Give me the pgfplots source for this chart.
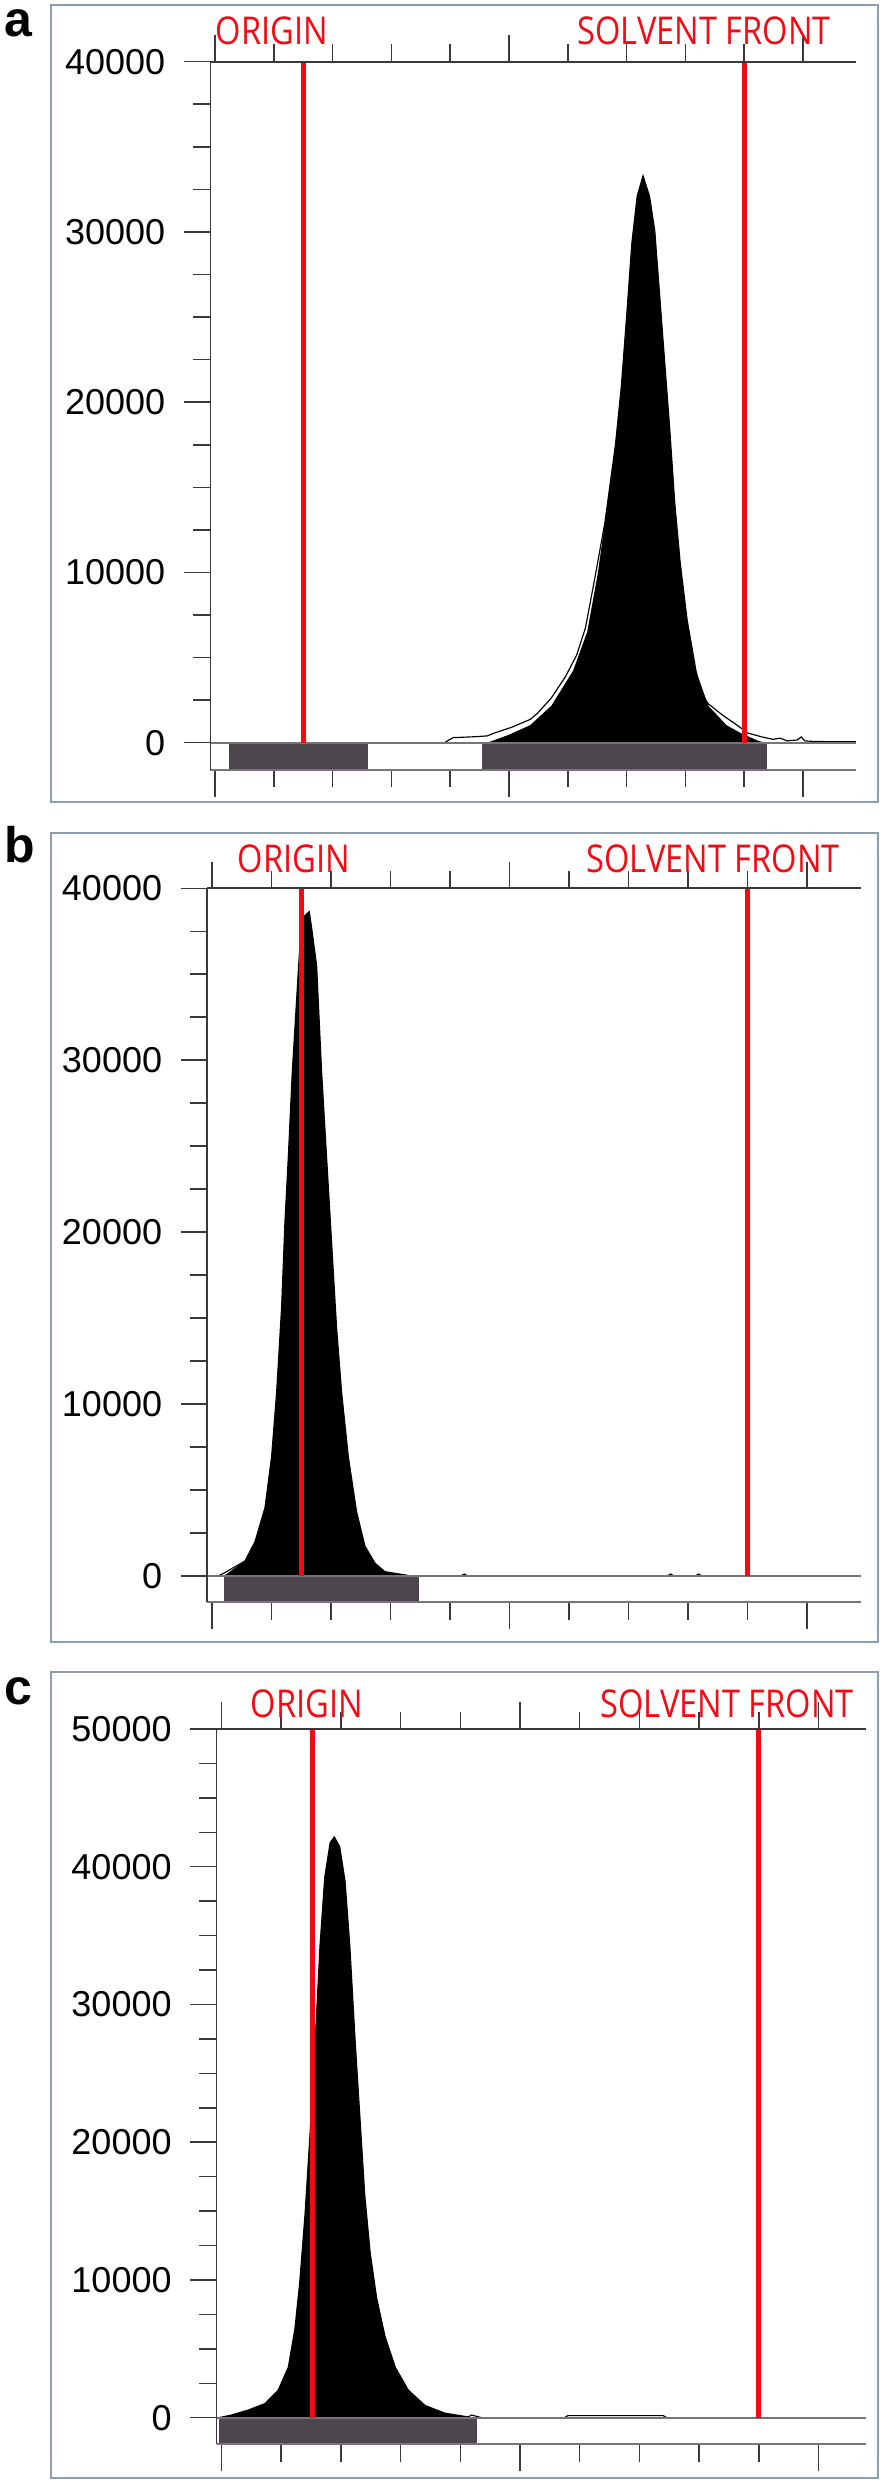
\documentclass[border=0pt]{standalone}
\usepackage{fontspec}
\setmainfont{Liberation Sans}
\newfontfamily\labfont[FakeStretch=0.85]{Open Sans}
\usepackage{pgfplots}
\pgfplotsset{compat=1.18}

\definecolor{bandgray}{RGB}{75,71,76}
\definecolor{frameblue}{RGB}{140,156,178}
\definecolor{tickgray}{RGB}{60,55,60}
\definecolor{zerogray}{RGB}{120,115,122}
\definecolor{tlcred}{RGB}{245,10,20}

\pgfplotsset{
  tlc/.style={
    scale only axis, clip=false,
    axis line style={draw=none},
    tick align=outside,
    xtick pos=both, ytick pos=left,
    xtick={0,5,10}, minor xtick={1,2,3,4,6,7,8,9},
    xticklabels={,,},
    major tick length=8pt, minor tick length=5.2pt,
    tick style={tickgray, line width=0.45pt},
    scaled y ticks=false,
    /pgf/number format/assume math mode=true,
    /pgf/number format/1000 sep={},
    yticklabel style={font=\fontsize{10.8}{12}\selectfont, xshift=-2pt},
  },
  band/.style={fill=bandgray, draw=none},
  peak/.style={fill=black, draw=none},
  trace/.style={black, line width=0.35pt},
  zeroline/.style={zerogray, line width=0.6pt},
  redline/.style={tlcred, line width=1.5pt},
}
\newcommand\axframe{%
  \draw[tickgray, line width=0.7pt] (rel axis cs:0,1) -- (rel axis cs:1,1);
  \draw[zerogray, line width=0.6pt] (rel axis cs:0,0) -- (rel axis cs:1,0);
  \draw[tickgray, line width=0.45pt] (rel axis cs:0,0) -- (rel axis cs:0,1);
}

\begin{document}
\begin{tikzpicture}
\useasboundingbox (0,0) rectangle (264.9pt,744.3pt);

% ---------------- panel a ----------------
\begin{axis}[tlc, at={(63.09pt,513.3pt)}, width=193.68pt, height=212.49pt,
  xmin=-0.08, xmax=10.9, ymin=-1600, ymax=40000,
  ytick={0,10000,...,40000},
  minor ytick={2500,5000,7500,12500,15000,17500,22500,25000,27500,32500,35000,37500}]
\addplot[band] coordinates {(0.24,-1600) (0.24,0) (2.60,0) (2.60,-1600)};
\addplot[band] coordinates {(4.54,-1600) (4.54,0) (9.39,0) (9.39,-1600)};
\addplot[peak] table {
x y
4.63 0
4.99 457
5.36 1030
5.72 2170
6.09 4230
6.33 6510
6.51 9940
6.63 12910
6.81 17480
6.91 20910
7.00 25020
7.09 29360
7.18 32100
7.28 33300
7.39 32100
7.48 30050
7.54 27300
7.63 23190
7.73 18620
7.82 14050
7.91 10630
8.03 7200
8.18 4230
8.39 2170
8.70 1030
8.94 570
9.24 110
9.36 0
};
\addplot[trace] table {
x y
3.90 0
4.05 300
4.40 350
4.63 400
4.75 570
5.05 914
5.36 1370
5.48 1714
5.72 2630
5.96 3880
6.15 5140
6.30 6740
6.45 9480
6.63 12910
6.81 17480
6.91 20910
7.00 25020
7.09 29360
7.18 32100
7.28 33300
7.39 32100
7.48 30050
7.54 27300
7.63 23190
7.73 18620
7.82 14050
7.91 10630
8.03 7200
8.18 4230
8.27 2860
8.39 2285
8.64 1600
8.88 1030
9.06 570
9.30 343
9.49 200
9.61 270
9.73 110
9.90 160
9.97 340
10.03 110
10.20 70
10.90 60
};
\addplot[zeroline] coordinates {(-0.08,0) (10.9,0)};
\addplot[redline] coordinates {(1.5,0) (1.5,40000)};
\addplot[redline] coordinates {(9.0,0) (9.0,40000)};
\axframe
\end{axis}

% ---------------- panel b ----------------
\begin{axis}[tlc, at={(62.16pt,263.61pt)}, width=195.99pt, height=214.2pt,
  xmin=-0.08, xmax=10.9, ymin=-1530, ymax=40000,
  ytick={0,10000,...,40000},
  minor ytick={2500,5000,7500,12500,15000,17500,22500,25000,27500,32500,35000,37500}]
\addplot[band] coordinates {(0.20,-1530) (0.20,0) (3.48,0) (3.48,-1530)};
\addplot[peak] table {
x y
0.20 0
0.40 500
0.555 870
0.723 1990
0.891 3970
1.003 6955
1.087 10680
1.171 15650
1.227 20620
1.283 24340
1.350 29310
1.423 33530
1.479 36760
1.560 38400
1.635 38640
1.675 37700
1.759 35500
1.843 29310
1.927 24340
2.011 19380
2.095 14410
2.179 10680
2.291 6955
2.431 3730
2.571 1740
2.739 745
2.907 250
3.132 124
3.356 0
};
\addplot[trace] table {
x y
-0.05 0
0.106 0
0.218 199
0.555 870
0.723 1990
0.891 3970
1.003 6955
1.087 10680
1.171 15650
1.227 20620
1.283 24340
1.350 29310
1.423 33530
1.479 36760
1.560 38400
1.635 38640
1.675 37700
1.759 35500
1.843 29310
1.927 24340
2.011 19380
2.095 14410
2.179 10680
2.291 6955
2.431 3730
2.571 1740
2.739 745
2.907 250
3.132 124
3.356 0
4.18 0
4.24 110
4.30 0
7.65 0
7.71 110
7.77 0
8.12 0
8.18 110
8.24 0
};
\addplot[zeroline] coordinates {(-0.08,0) (10.9,0)};
\addplot[redline] coordinates {(1.5,0) (1.5,40000)};
\addplot[redline] coordinates {(9.0,0) (9.0,40000)};
\axframe
\end{axis}

% ---------------- panel c ----------------
\begin{axis}[tlc, at={(65.01pt,11.01pt)}, width=194.85pt, height=214.59pt,
  xmin=-0.08, xmax=10.8, ymin=-1930, ymax=50000,
  ytick={0,10000,...,50000},
  minor ytick={2500,5000,7500,12500,15000,17500,22500,25000,27500,32500,35000,37500,42500,45000,47500}]
\addplot[band] coordinates {(-0.04,-1930) (-0.04,0) (4.28,0) (4.28,-1930)};
\addplot[peak] table {
x y
-0.05 0
0.17 195
0.45 556
0.73 1028
0.95 2000
1.12 3670
1.23 6450
1.31 9780
1.40 14780
1.48 20340
1.57 27290
1.65 34240
1.73 39240
1.82 41740
1.89 42160
1.98 41460
2.07 38960
2.15 34240
2.24 27290
2.32 21730
2.40 16170
2.49 12000
2.60 8670
2.74 5890
2.91 3670
3.13 2000
3.41 890
3.74 333
4.13 56
4.19 0
};
\addplot[trace] table {
x y
-0.05 0
0.17 195
0.45 556
0.73 1028
0.95 2000
1.12 3670
1.23 6450
1.31 9780
1.40 14780
1.48 20340
1.57 27290
1.65 34240
1.73 39240
1.82 41740
1.89 42160
1.98 41460
2.07 38960
2.15 34240
2.24 27290
2.32 21730
2.40 16170
2.49 12000
2.60 8670
2.74 5890
2.91 3670
3.13 2000
3.41 890
3.74 333
4.13 56
4.19 195
4.36 0
5.75 0
5.80 150
7.40 150
7.46 0
};
\addplot[zeroline] coordinates {(-0.08,0) (10.8,0)};
\addplot[redline] coordinates {(1.52,0) (1.52,50000)};
\addplot[redline] coordinates {(9.0,0) (9.0,50000)};
\axframe
\end{axis}

% ---------------- frames, letters, labels ----------------
\begin{scope}[x=0.3pt, y=0.3pt]
\draw[frameblue, line width=0.6pt] (51,2476) rectangle (878,1679.3);
\draw[frameblue, line width=0.6pt] (51,1648.3) rectangle (878,839.3);
\draw[frameblue, line width=0.6pt] (51,809) rectangle (878,3);
\node[anchor=base west, inner sep=0pt, font=\fontsize{15}{15}\selectfont\bfseries] at (4,2444) {a};
\node[anchor=base west, inner sep=0pt, font=\fontsize{15}{15}\selectfont\bfseries] at (4,1618) {b};
\node[anchor=base west, inner sep=0pt, font=\fontsize{15}{15}\selectfont\bfseries] at (4,776) {c};
\tikzset{lab/.style={anchor=base west, inner sep=0pt, text=tlcred, font=\labfont\fontsize{11.5}{13}\selectfont}}
\node[lab] at (215,2436) {ORIGIN};
\node[lab] at (577,2436) {SOLVENT FRONT};
\node[lab] at (237,1608) {ORIGIN};
\node[lab] at (586,1608) {SOLVENT FRONT};
\node[lab] at (250,763) {ORIGIN};
\node[lab] at (600,763) {SOLVENT FRONT};
\end{scope}
\end{tikzpicture}
\end{document}
